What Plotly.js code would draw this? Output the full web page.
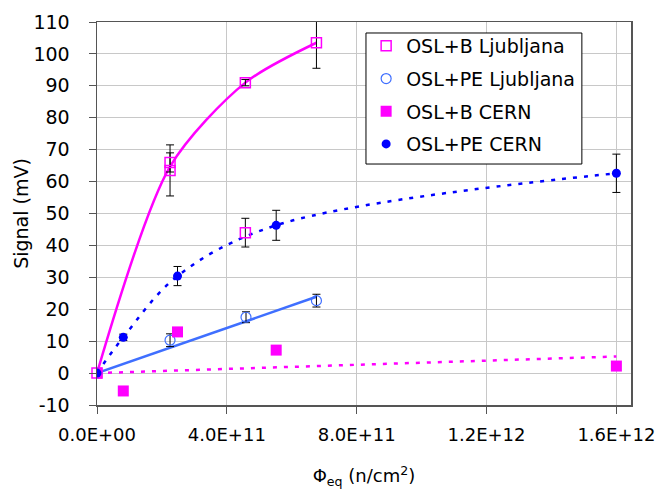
<!DOCTYPE html>
<html><head><meta charset="utf-8">
<script src="https://cdn.plot.ly/plotly-3.0.1.min.js"></script>
<style>html,body{margin:0;padding:0;background:#fff;}#chart{width:659px;height:489px;}</style>
</head><body><div id="chart"></div>
<script>
// OSL+B Ljubljana (open squares)
const bLjX = [0, 2.25e11, 2.25e11, 4.57e11, 4.57e11, 6.76e11];
const bLjY = [0, 63.5, 66, 91, 44, 103.5];
const bLjE = [0, 8, 3, 1, 4.5, 8];
// OSL+PE Ljubljana (open circles)
const peLjX = [0, 2.25e11, 4.59e11, 6.76e11];
const peLjY = [0, 10.3, 17.5, 22.7];
const peLjE = [0, 2, 1.7, 2];
// OSL+B CERN (filled squares)
const bCeX = [0, 0.81e11, 2.48e11, 5.52e11, 1.6e12];
const bCeY = [0, -5.6, 12.9, 7.2, 2.2];
// OSL+PE CERN (filled circles)
const peCeX = [0, 0.81e11, 2.48e11, 5.52e11, 1.6e12];
const peCeY = [0, 11.2, 30.4, 46.3, 62.6];
const peCeE = [0, 1, 3, 4.7, 6];
// Curves / trendlines
const bLjLineX = [0, 2.25e11, 4.57e11, 6.76e11];
const bLjLineY = [0, 64.7, 91, 103.5];
const peLjLineX = [0, 6.76e11];
const peLjLineY = [0, 23.9];
const bCeLineX = [0, 1.6e12];
const bCeLineY = [0, 5.2];
const peCeLineX = peCeX;
const peCeLineY = peCeY;
const xTickVals = [0, 4e11, 8e11, 1.2e12, 1.6e12];
const xTickText = ['0.0E+00', '4.0E+11', '8.0E+11', '1.2E+12', '1.6E+12'];
const yTickVals = [-10, 0, 10, 20, 30, 40, 50, 60, 70, 80, 90, 100, 110];
const yTickText = ['-10', '0', '10', '20', '30', '40', '50', '60', '70', '80', '90', '100', '110'];

const MAG = '#ff00ff', BLUE = '#0000ff', LBLUE = '#3f6fff';
const F = 'DejaVu Sans, Liberation Sans, Arial, sans-serif';
const eb = (arr) => ({type:'data', array:arr, visible:true, color:'#000', thickness:1, width:4});

const traces = [
  {x:bLjLineX, y:bLjLineY, mode:'lines', line:{color:MAG, width:2.5, shape:'spline', smoothing:0.8}, showlegend:false, hoverinfo:'skip'},
  {x:peLjLineX, y:peLjLineY, mode:'lines', line:{color:LBLUE, width:2.5}, showlegend:false, hoverinfo:'skip'},
  {x:bCeLineX, y:bCeLineY, mode:'lines', line:{color:MAG, width:2.5, dash:'4px,7px'}, showlegend:false, hoverinfo:'skip'},
  {x:peCeLineX, y:peCeLineY, mode:'lines', line:{color:BLUE, width:2.5, dash:'4px,7px', shape:'spline'}, showlegend:false, hoverinfo:'skip'},
  {x:bLjX, y:bLjY, name:'OSL+B Ljubljana', legendgroup:'a', mode:'markers', error_y:eb(bLjE), cliponaxis:false,
   marker:{symbol:'square-open', size:10, color:MAG, line:{width:1.5}}},
  {x:peLjX, y:peLjY, name:'OSL+PE Ljubljana', legendgroup:'b', mode:'markers', error_y:eb(peLjE),
   marker:{symbol:'circle-open', size:10, color:LBLUE, line:{width:1.2}}},
  {x:bCeX, y:bCeY, name:'OSL+B CERN', legendgroup:'c', mode:'markers',
   marker:{symbol:'square', size:11, color:MAG}},
  {x:peCeX, y:peCeY, name:'OSL+PE CERN', legendgroup:'d', mode:'markers', error_y:eb(peCeE),
   marker:{symbol:'circle', size:9, color:BLUE}}
];

const layout = {
  width:659, height:489,
  margin:{l:97, r:28, t:22, b:84},
  paper_bgcolor:'#ffffff', plot_bgcolor:'#ffffff',
  font:{family:F, size:18, color:'#000'},
  xaxis:{range:[0, 1.645e12], tickvals:xTickVals, ticktext:xTickText,
    showgrid:true, gridcolor:'#c8c8c8', gridwidth:1,
    showline:true, linecolor:'#555', linewidth:1.5, mirror:true,
    ticks:'outside', ticklen:7, tickcolor:'#555', zeroline:false,
    tickfont:{family:F, size:18}, ticklabelstandoff:6,
    title:{text:'Φ<sub>eq</sub> (n/cm<sup>2</sup>)', font:{family:F, size:18}, standoff:26}},
  yaxis:{range:[-10, 110], tickvals:yTickVals, ticktext:yTickText,
    showgrid:true, gridcolor:'#c8c8c8', gridwidth:1,
    showline:true, linecolor:'#555', linewidth:1.5, mirror:true,
    ticks:'outside', ticklen:7, tickcolor:'#555', zeroline:false,
    tickfont:{family:F, size:19}, ticklabelstandoff:15,
    title:{text:'Signal (mV)', font:{family:F, size:19}, standoff:0}},
  legend:{x:0.504, y:0.987, xanchor:'left', yanchor:'top',
    bgcolor:'rgba(0,0,0,0)', borderwidth:0, tracegroupgap:5,
    font:{family:F, size:19}, itemwidth:30},
  shapes:[{type:'rect', xref:'paper', yref:'paper', x0:0.5037, x1:0.908, y0:0.6292, y1:0.9713,
    fillcolor:'#ffffff', line:{color:'#000', width:1}, layer:'above'}],
  showlegend:true
};
Plotly.newPlot('chart', traces, layout, {displayModeBar:false, staticPlot:true});
</script>
</body></html>
